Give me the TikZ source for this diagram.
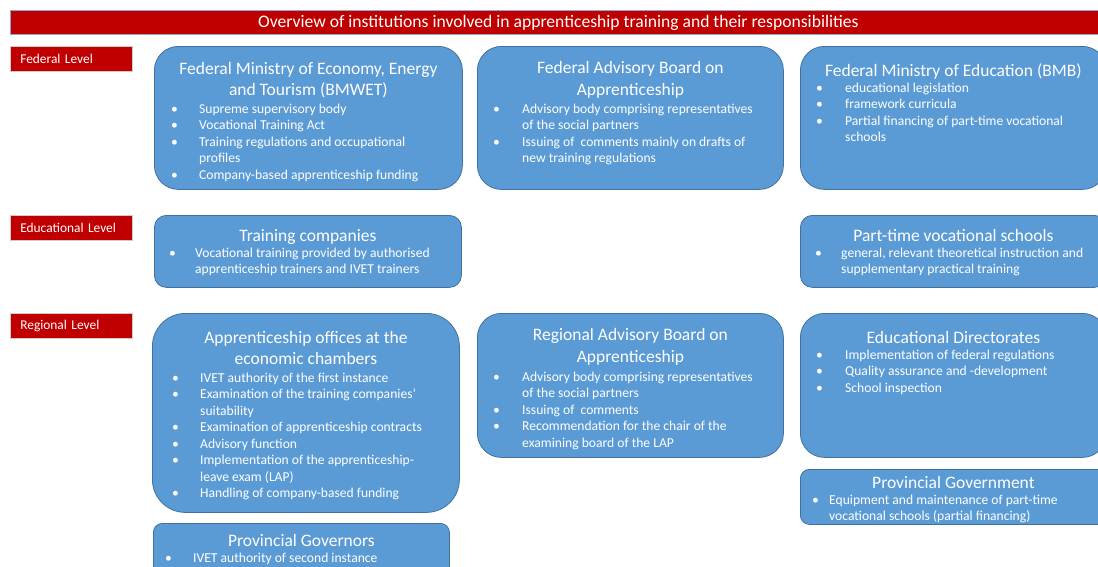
\documentclass[tikz,border=0pt]{standalone}
\usepackage{fontspec}
\setmainfont{Carlito}
\definecolor{lvred}{HTML}{C00000}
\definecolor{boxfill}{HTML}{5B9BD5}
\definecolor{boxline}{HTML}{41719C}
\begin{document}
\begin{tikzpicture}[x=1pt,y=-1pt,
	box/.style={draw=boxline, fill=boxfill, line width=0.8pt, anchor=north west, inner sep=0pt},
	head/.style={anchor=north, inner sep=0pt, text=white, align=center, font=\fontsize{17.5}{21.3}\selectfont, execute at begin node=\strut},
	list/.style={anchor=north west, inner sep=0pt, text=white, font=\fontsize{13.6}{16.5}\selectfont},
	level/.style={fill=lvred, draw=black!20, line width=0.6pt, anchor=north west, minimum height=25pt, text width=102pt, inner xsep=10pt, inner ysep=0pt, align=left, text=white, font=\fontsize{13.4}{15}\selectfont}]
	\useasboundingbox (0,0) rectangle (1098,566);
	\clip (0,0) rectangle (1098,566);

	\node[fill=lvred, draw=boxline!60, line width=0.8pt, anchor=north west, minimum width=1096pt, minimum height=24pt, inner sep=0pt, text=white, font=\fontsize{17.6}{20}\selectfont] (title) at (10,10) {Overview of institutions involved in apprenticeship training and their responsibilities};

	\node[level] (fed) at (10,46) {Federal Level};
	\node[level] (edu) at (10,215) {Educational Level};
	\node[level] (reg) at (10,313) {Regional Level};

	\node[box, rounded corners=24pt, minimum width=308pt, minimum height=143pt] (bmwet) at (154,46) {};
	\node[head, yshift=-16pt] (bmwet-h) at (bmwet.north) {Federal Ministry of Economy, Energy\\and Tourism (BMWET)};
	\node[list] (bmwet-l) at ([xshift=17pt, yshift=-55.5pt]bmwet.north west) {\begin{tabular}{@{}p{28pt}@{}l@{}}
		\textbullet & Supreme supervisory body\\
		\textbullet & Vocational Training Act\\
		\textbullet & Training regulations and occupational\\
		& profiles\\
		\textbullet & Company-based apprenticeship funding
	\end{tabular}};

	\node[box, rounded corners=24pt, minimum width=306pt, minimum height=143pt] (fab) at (477,46) {};
	\node[head, yshift=-15.5pt] (fab-h) at (fab.north) {Federal Advisory Board on\\Apprenticeship};
	\node[list] (fab-l) at ([xshift=16pt, yshift=-55.5pt]fab.north west) {\begin{tabular}{@{}p{29pt}@{}l@{}}
		\textbullet & Advisory body comprising representatives\\
		& of the social partners\\
		\textbullet & Issuing of\ \ comments mainly on drafts of\\
		& new training regulations
	\end{tabular}};

	\node[box, rounded corners=24pt, minimum width=306pt, minimum height=143pt] (bmb) at (800,46) {};
	\node[head, yshift=-15pt] (bmb-h) at (bmb.north) {Federal Ministry of Education (BMB)};
	\node[list] (bmb-l) at ([xshift=16pt, yshift=-34.5pt]bmb.north west) {\begin{tabular}{@{}p{29pt}@{}l@{}}
		\textbullet & educational legislation\\
		\textbullet & framework curricula\\
		\textbullet & Partial financing of part-time vocational\\
		& schools
	\end{tabular}};

	\node[box, rounded corners=12pt, minimum width=307pt, minimum height=72pt] (comp) at (154,215) {};
	\node[head, yshift=-11pt] (comp-h) at (comp.north) {Training companies};
	\node[list] (comp-l) at ([xshift=15pt, yshift=-30.5pt]comp.north west) {\begin{tabular}{@{}p{26pt}@{}l@{}}
		\textbullet & Vocational training provided by authorised\\
		& apprenticeship trainers and IVET trainers
	\end{tabular}};

	\node[box, rounded corners=12pt, minimum width=306pt, minimum height=72pt] (school) at (800,215) {};
	\node[head, yshift=-11pt] (school-h) at (school.north) {Part-time vocational schools};
	\node[list] (school-l) at ([xshift=15pt, yshift=-30.5pt]school.north west) {\begin{tabular}{@{}p{26pt}@{}l@{}}
		\textbullet & general, relevant theoretical instruction and\\
		& supplementary practical training
	\end{tabular}};

	\node[box, rounded corners=33pt, minimum width=307pt, minimum height=199pt] (office) at (152,313) {};
	\node[head, yshift=-18pt] (office-h) at (office.north) {Apprenticeship offices at the\\economic chambers};
	\node[list] (office-l) at ([xshift=20pt, yshift=-57.5pt]office.north west) {\begin{tabular}{@{}p{28pt}@{}l@{}}
		\textbullet & IVET authority of the first instance\\
		\textbullet & Examination of the training companies'\\
		& suitability\\
		\textbullet & Examination of apprenticeship contracts\\
		\textbullet & Advisory function\\
		\textbullet & Implementation of the apprenticeship-\\
		& leave exam (LAP)\\
		\textbullet & Handling of company-based funding
	\end{tabular}};

	\node[box, rounded corners=24pt, minimum width=306pt, minimum height=144pt] (rab) at (477,313) {};
	\node[head, yshift=-15.5pt] (rab-h) at (rab.north) {Regional Advisory Board on\\Apprenticeship};
	\node[list] (rab-l) at ([xshift=16pt, yshift=-56.5pt]rab.north west) {\begin{tabular}{@{}p{29pt}@{}l@{}}
		\textbullet & Advisory body comprising representatives\\
		& of the social partners\\
		\textbullet & Issuing of\ \ comments\\
		\textbullet & Recommendation for the chair of the\\
		& examining board of the LAP
	\end{tabular}};

	\node[box, rounded corners=24pt, minimum width=306pt, minimum height=144pt] (dir) at (800,313) {};
	\node[head, yshift=-15pt] (dir-h) at (dir.north) {Educational Directorates};
	\node[list] (dir-l) at ([xshift=16pt, yshift=-34.5pt]dir.north west) {\begin{tabular}{@{}p{29pt}@{}l@{}}
		\textbullet & Implementation of federal regulations\\
		\textbullet & Quality assurance and -development\\
		\textbullet & School inspection
	\end{tabular}};

	\node[box, rounded corners=9pt, minimum width=306pt, minimum height=55pt] (pgov) at (800,469) {};
	\node[head, yshift=-4pt] (pgov-h) at (pgov.north) {Provincial Government};
	\node[list] (pgov-l) at ([xshift=12pt, yshift=-23.5pt]pgov.north west) {\begin{tabular}{@{}p{17pt}@{}l@{}}
		\textbullet & Equipment and maintenance of part-time\\
		& vocational schools (partial financing)
	\end{tabular}};

	\node[box, rounded corners=9pt, minimum width=296pt, minimum height=60pt] (pgvr) at (153,523) {};
	\node[head, yshift=-8pt] (pgvr-h) at (pgvr.north) {Provincial Governors};
	\node[list] (pgvr-l) at ([xshift=12pt, yshift=-27.5pt]pgvr.north west) {\begin{tabular}{@{}p{28pt}@{}l@{}}
		\textbullet & IVET authority of second instance
	\end{tabular}};
\end{tikzpicture}
\end{document}
